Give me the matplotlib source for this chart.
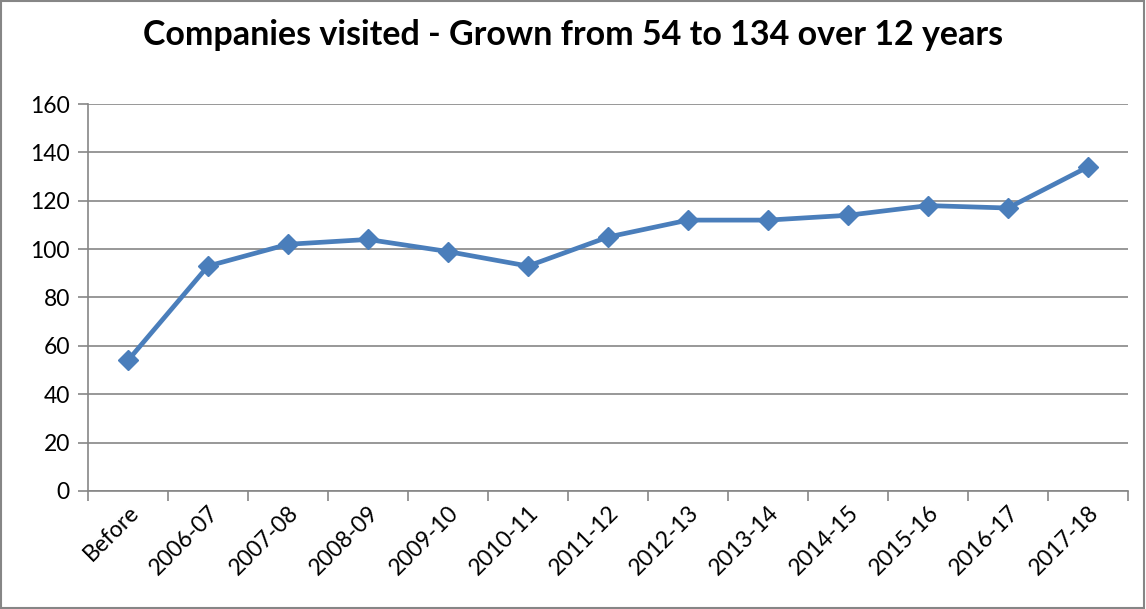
import matplotlib.pyplot as plt
from matplotlib.patches import Rectangle

categories = ['Before', '2006-07', '2007-08', '2008-09', '2009-10', '2010-11', '2011-12',
              '2012-13', '2013-14', '2014-15', '2015-16', '2016-17', '2017-18']
visits = [54, 93, 102, 104, 99, 93, 105, 112, 112, 114, 118, 117, 134]
yticks = [0, 20, 40, 60, 80, 100, 120, 140, 160]

plt.rcParams['font.family'] = ['Lato', 'DejaVu Sans']
fig = plt.figure(figsize=(11.46, 6.09), dpi=100)
ax = fig.add_axes([0.0768, 0.1938, 0.9075, 0.6354])

x = list(range(len(categories)))
ax.plot(x, visits, color='#4A7EBB', lw=3.4, marker='D', ms=10, mfc='#4A7EBB', mec='#4A7EBB', zorder=3)

ax.set_ylim(0, 160)
ax.set_yticks(yticks)
ax.set_xlim(-0.5, len(categories) - 0.5)
# ticks at category boundaries, labels at centers
ax.set_xticks([i - 0.5 for i in range(len(categories) + 1)])
ax.set_xticklabels([])
ax.set_xticks(x, minor=True)
ax.set_xticklabels(categories, minor=True, rotation=45, ha='right', va='top',
                   rotation_mode='anchor', fontsize=16.5)
ax.tick_params(axis='x', which='minor', length=0, pad=8)
ax.tick_params(axis='x', which='major', length=7, color='#868686', width=1.2)
ax.tick_params(axis='y', length=7, color='#868686', width=1.2, labelsize=16.5, pad=6)

ax.grid(axis='y', color='#868686', lw=1.2)
ax.set_axisbelow(True)
for s in ['top', 'right']:
    ax.spines[s].set_visible(False)
for s in ['left', 'bottom']:
    ax.spines[s].set_color('#868686')
    ax.spines[s].set_linewidth(1.2)

fig.text(0.5, 0.943, 'Companies visited - Grown from 54 to 134 over 12 years',
         ha='center', va='center', fontsize=24.5, fontweight='bold')

fig.patches.append(Rectangle((0.001, 0.001), 0.997, 0.997, transform=fig.transFigure,
                             fill=False, edgecolor='#868686', lw=1.5))

fig.savefig('out.png', dpi=100)
